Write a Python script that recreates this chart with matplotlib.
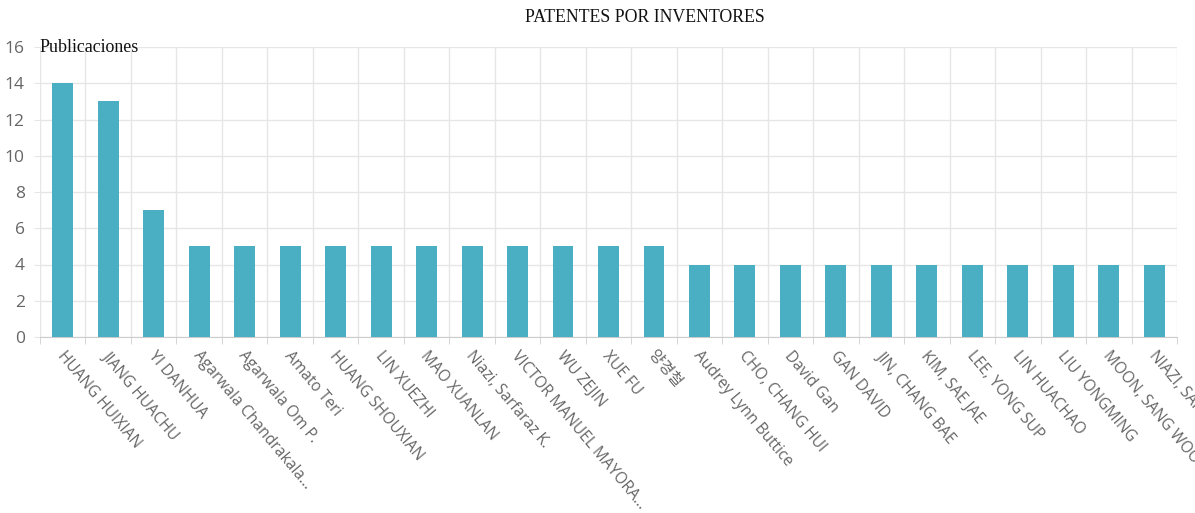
import matplotlib.pyplot as plt
import matplotlib.transforms as mtransforms
import numpy as np

inventores = ["HUANG HUIXIAN", "JIANG HUACHU", "YI DANHUA", "Agarwala Chandrakala...",
              "Agarwala Om P.", "Amato Teri", "HUANG SHOUXIAN", "LIN XUEZHI",
              "MAO XUANLAN", "Niazi, Sarfaraz K.", "VICTOR MANUEL MAYORA...",
              "WU ZEJIN", "XUE FU", "양경철", "Audrey Lynn Buttice", "CHO, CHANG HUI",
              "David Gan", "GAN DAVID", "JIN, CHANG BAE", "KIM, SAE JAE",
              "LEE, YONG SUP", "LIN HUACHAO", "LIU YONGMING", "MOON, SANG WOO",
              "NIAZI, SARFARAZ K."]
publicaciones = [14, 13, 7, 5, 5, 5, 5, 5, 5, 5, 5, 5, 5, 5,
                 4, 4, 4, 4, 4, 4, 4, 4, 4, 4, 4]
yticks = [0, 2, 4, 6, 8, 10, 12, 14, 16]

bar_color = "#4bafc4"
grid_color = "#e6e6e6"
label_color = "#666666"
sans = ["Open Sans", "Noto Sans CJK KR", "DejaVu Sans"]

fig = plt.figure(figsize=(11.95, 5.13), dpi=100)
ax = fig.add_axes([40 / 1195, 1 - 337 / 513, (1177 - 40) / 1195, (337 - 47) / 513])

x = np.arange(len(inventores))
ax.bar(x, publicaciones, width=0.46, color=bar_color, zorder=3)

ax.set_xlim(-0.5, len(inventores) - 0.5)
ax.set_ylim(0, 16)

ax.set_yticks(yticks)
ax.set_yticklabels([str(v) for v in yticks], family=sans, fontsize=12.5, color=label_color)
ax.yaxis.grid(True, color=grid_color, linewidth=1, zorder=0)

# category boundaries carry the vertical grid lines
ax.set_xticks(np.arange(len(inventores) + 1) - 0.5, minor=True)
ax.xaxis.grid(True, which="minor", color=grid_color, linewidth=1, zorder=0)
ax.tick_params(axis="x", which="minor", length=5, color="#cfcfcf")
ax.tick_params(axis="x", which="major", length=0, pad=8)
ax.tick_params(axis="y", length=4, color=grid_color, pad=7)

ax.set_xticks(x)
ax.set_xticklabels(inventores, rotation=-50, ha="left", va="top",
                   rotation_mode="anchor", family=sans, fontsize=11.2, color=label_color)
shift = mtransforms.ScaledTranslation(3 / 100, 0, fig.dpi_scale_trans)
for lbl in ax.get_xticklabels():
    lbl.set_transform(lbl.get_transform() + shift)

for side in ["top", "right", "left"]:
    ax.spines[side].set_visible(False)
ax.spines["bottom"].set_color("#cccccc")

fig.text(645 / 1195, 1 - 18 / 513, "PATENTES POR INVENTORES", ha="center", va="center",
         family="Liberation Serif", fontsize=12.8, color="#111111")
fig.text(40 / 1195, 1 - 48 / 513, "Publicaciones", ha="left", va="center",
         family="Liberation Serif", fontsize=12.9, color="#111111")

fig.savefig("out.png", dpi=100)
